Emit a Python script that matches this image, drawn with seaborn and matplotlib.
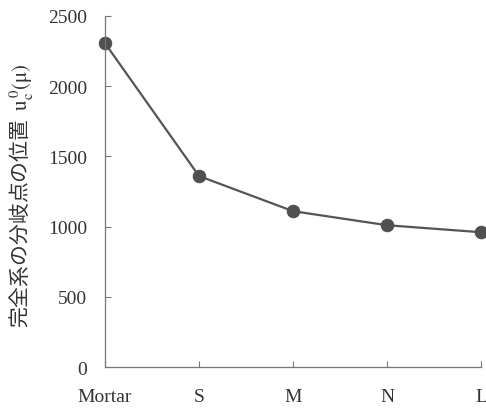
import matplotlib
matplotlib.use("Agg")
import matplotlib.pyplot as plt
import seaborn as sns
import pandas as pd

# data
categories = ["Mortar", "S", "M", "N", "L"]
values = [2305, 1360, 1110, 1010, 960]
y_ticks = [0, 500, 1000, 1500, 2000, 2500]

sns.set_style("ticks")
plt.rcParams['font.family'] = ['Liberation Serif', 'DejaVu Serif']
plt.rcParams['mathtext.fontset'] = 'stix'

df = pd.DataFrame({"cat": categories, "val": values})

fig = plt.figure(figsize=(4.86, 4.10), dpi=100)
ax = fig.add_axes([0.216, 0.102, 0.774, 0.857])

sns.lineplot(data=df, x="cat", y="val", sort=False, ax=ax,
             color="#555555", linewidth=1.6, marker="o",
             markersize=9, markerfacecolor="#505050",
             markeredgecolor="#505050", clip_on=False)

ax.set_xlim(0, len(categories) - 1)
ax.set_ylim(0, 2500)
ax.set_yticks(y_ticks)
ax.set_yticklabels([str(t) for t in y_ticks])

sns.despine(ax=ax)
for s in ["left", "bottom"]:
    ax.spines[s].set_color("#777777")
    ax.spines[s].set_linewidth(0.9)

ax.tick_params(axis="both", direction="in", length=4, width=0.8,
               colors="#777777", labelcolor="#333333", labelsize=14)
ax.tick_params(axis="x", pad=15)
ax.tick_params(axis="y", pad=13)

ax.set_xlabel("")
ax.set_ylabel("完全系の分岐点の位置  $\\mathrm{u_c^{\\,0}(\\mu)}$",
              family=['Noto Sans CJK JP', 'DejaVu Sans'],
              fontsize=15, color="#333333")
ax.yaxis.set_label_coords(-0.185, 0.49)

fig.savefig("out.png", dpi=100)
